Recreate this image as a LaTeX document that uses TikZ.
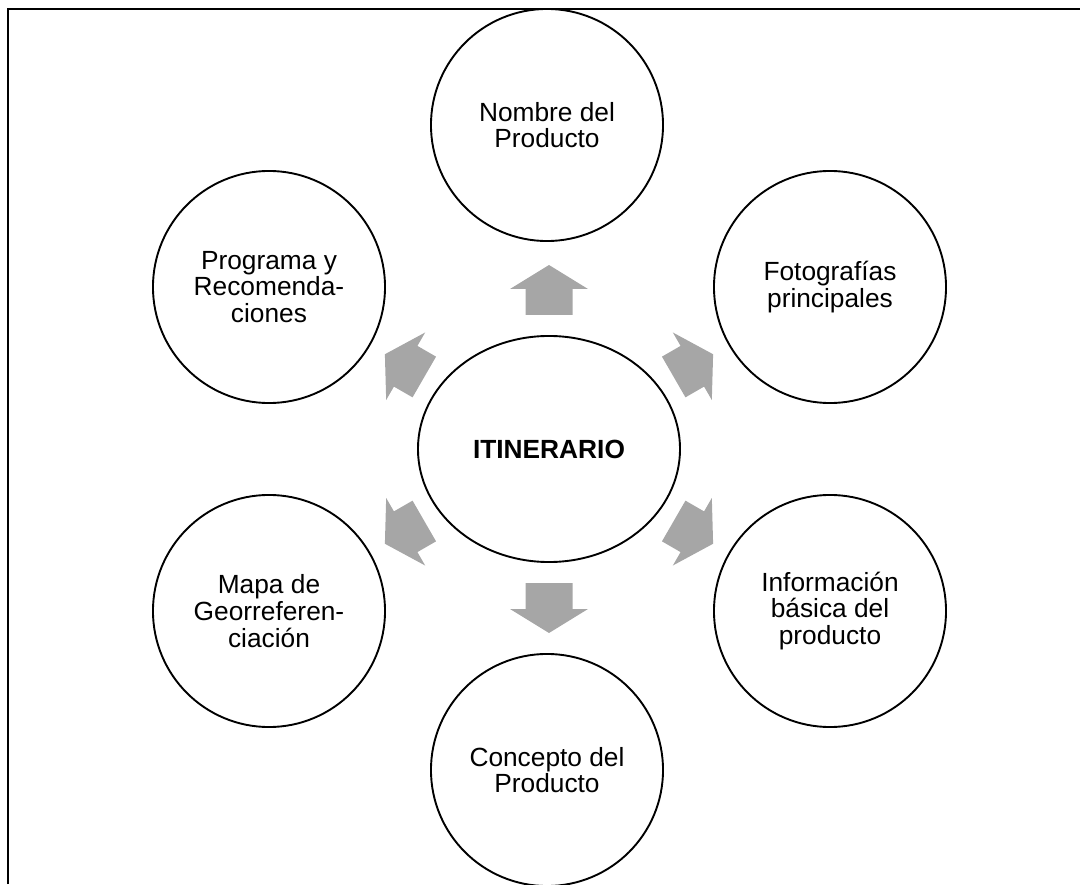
\documentclass[tikz,border=0pt]{standalone}
\usepackage{fontspec}
\setmainfont{Liberation Sans}
\usetikzlibrary{shapes.geometric,calc}
\definecolor{arrowgray}{HTML}{A6A6A6}
\tikzset{
  bubble/.style={circle,draw=black,line width=1.35pt,minimum size=5.8cm,inner sep=0pt,align=center,font=\fontsize{18.7}{19}\selectfont},
  hub/.style={ellipse,draw=black,line width=1.35pt,minimum width=6.55cm,minimum height=5.65cm,inner sep=0pt,align=center,font=\fontsize{18.7}{19}\selectfont\bfseries},
  frameline/.style={draw=black,line width=1.2pt},
  blockarrow/.pic={\fill[arrowgray] (0,-23.5) -- (#1,-23.5) -- (#1,-39) -- ({#1+24},0) -- (#1,39) -- (#1,23.5) -- (0,23.5) -- cycle;}
}
\begin{document}
\begin{tikzpicture}[x=0.025cm,y=0.025cm]
\useasboundingbox (0,0) rectangle (1080,884);
\draw[frameline] (8,0) -- (8,875) -- (1080,875);

\node[hub] (c) at (549,435) {ITINERARIO};
\node[bubble] (n1) at (547,759) {Nombre del\\Producto};
\node[bubble] (n2) at (830,597) {Fotografías\\principales};
\node[bubble] (n3) at (830,273) {Información\\básica del\\producto};
\node[bubble] (n4) at (547,114) {Concepto del\\Producto};
\node[bubble] (n5) at (269,273) {Mapa de\\Georreferen-\\ciación};
\node[bubble] (n6) at (269,597) {Programa y\\Recomenda-\\ciones};

\foreach \a/\s/\r in {90/26/134, -90/26/134, 30/21.5/144, -30/21.5/144, 150/21.5/144, 210/21.5/144}
  \pic[rotate=\a] at ($(c.center)+(\a:\r)$) {blockarrow=\s};
\end{tikzpicture}
\end{document}
